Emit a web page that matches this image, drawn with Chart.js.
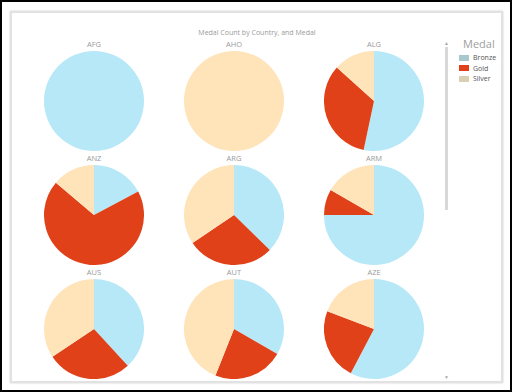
<!DOCTYPE html>
<html>
<head>
<meta charset="utf-8">
<script src="https://cdn.jsdelivr.net/npm/chart.js@4.4.0/dist/chart.umd.min.js"></script>
<style>
  html, body { margin: 0; padding: 0; background: #fff; }
  body { width: 512px; height: 392px; position: relative; overflow: hidden; font-family: "Open Sans", "Noto Sans", sans-serif; }
  #frame { position: absolute; left: 0; top: 0; width: 508px; height: 388px; border: 2px solid #000; }
  #panel { position: absolute; left: 10px; top: 11px; width: 489px; height: 368px; border: 2px solid #e2e2e2; box-shadow: 0 0 2px #ccc; }
  .lbl { position: absolute; width: 120px; text-align: center; font-size: 7.5px; color: #9a9a9a; line-height: 10px; }
  .pie { position: absolute; width: 100px; height: 100px; }
  #title { position: absolute; left: 157px; top: 28px; width: 200px; text-align: center; font-size: 7px; color: #9a9a9a; line-height: 10px; }
  #legend { position: absolute; left: 459px; top: 37px; }
  #legend .head { font-size: 11px; color: #a0a0a0; line-height: 14px; margin-left: 4px; margin-bottom: 2px; }
  #legend .item { font-size: 7px; color: #555; line-height: 10.5px; height: 10.5px; }
  #legend .sw { display: inline-block; width: 10px; height: 6px; margin-right: 4px; vertical-align: -0.5px; }
  #track { position: absolute; left: 445px; top: 47px; width: 3px; height: 163px; background: #d8d8d8; }
  .arrow { position: absolute; left: 443px; width: 7px; text-align: center; font-size: 5px; color: #aaa; line-height: 6px; }
</style>
</head>
<body>
<div id="frame"></div>
<div id="panel"></div>
<div id="title">Medal Count by Country, and Medal</div>
<div id="track"></div>
<div class="arrow" style="top:40px">&#9650;</div>
<div class="arrow" style="top:374px">&#9660;</div>
<div id="legend"></div>
<script>
const countries = ['AFG', 'AHO', 'ALG', 'ANZ', 'ARG', 'ARM', 'AUS', 'AUT', 'AZE'];
const medals = ['Bronze', 'Gold', 'Silver'];
const bronze = [2, 0, 8, 5, 91, 9, 472, 44, 15];
const gold   = [0, 0, 5, 20, 69, 1, 339, 30, 6];
const silver = [0, 1, 2, 4, 84, 2, 425, 58, 5];

const sliceColors = ['#b7e8f8', '#e04119', '#ffe3b9'];
const legendColors = ['#a9c8cd', '#e0401a', '#d9d0b2'];

const legend = document.getElementById('legend');
legend.innerHTML = '<div class="head">Medal</div>' + medals.map((m, i) =>
  '<div class="item"><span class="sw" style="background:' + legendColors[i] + '"></span>' + m + '</div>').join('');

const colX = [94, 234, 374];
const rowY = [101, 215, 329];

countries.forEach((c, i) => {
  const cx = colX[i % 3], cy = rowY[Math.floor(i / 3)];

  const lbl = document.createElement('div');
  lbl.className = 'lbl';
  lbl.style.left = (cx - 60) + 'px';
  lbl.style.top = (cy - 62) + 'px';
  lbl.textContent = c;
  document.body.appendChild(lbl);

  const box = document.createElement('div');
  box.className = 'pie';
  box.style.left = (cx - 50) + 'px';
  box.style.top = (cy - 50) + 'px';
  const cv = document.createElement('canvas');
  box.appendChild(cv);
  document.body.appendChild(box);

  new Chart(cv, {
    type: 'pie',
    data: {
      labels: medals,
      datasets: [{
        data: [bronze[i], gold[i], silver[i]],
        backgroundColor: sliceColors,
        borderWidth: 0
      }]
    },
    options: {
      responsive: true,
      maintainAspectRatio: false,
      animation: false,
      layout: { padding: 0 },
      plugins: { legend: { display: false }, tooltip: { enabled: false } }
    }
  });
});
</script>
</body>
</html>
